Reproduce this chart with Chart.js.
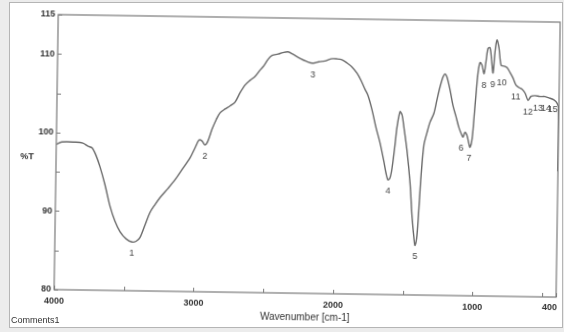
<!DOCTYPE html>
<html>
<head>
<meta charset="utf-8">
<script src="https://cdn.jsdelivr.net/npm/chart.js@4.4.1/dist/chart.umd.min.js"></script>
<style>
    body { margin: 0; background: #ececec; width: 564px; height: 332px; position: relative; overflow: hidden; }
    #frame { position: absolute; left: 9px; top: 2px; width: 552px; height: 324px; background: #fff; border: 1px solid #b5b5b5; }
    /* the scanned spectrum sits slightly tilted */
    #ftir { position: absolute; left: 0; top: 0; transform: rotate(0.86deg); }
    #comments { position: absolute; left: 11px; top: 315px; font: 9px "Liberation Sans", Arial, sans-serif; color: #333; }
</style>
</head>
<body>
<div id="frame"></div>
<canvas id="ftir" width="564" height="332"></canvas>
<div id="comments">Comments1</div>
<script>
// spectrum
const wavenumbers = [
    4000, 3960, 3866, 3809, 3772, 3743, 3715, 3684, 3646, 3608, 3571, 3534, 3490, 3447, 3418, 3390,
    3355, 3321, 3286, 3251, 3194, 3145, 3096, 3040, 3005, 2977, 2956, 2934, 2913, 2885, 2857, 2830,
    2794, 2759, 2723, 2688, 2653, 2618, 2583, 2548, 2519, 2491, 2463, 2420, 2385, 2349, 2312, 2262,
    2212, 2168, 2126, 2083, 2040, 1997, 1961, 1924, 1888, 1851, 1822, 1793, 1770, 1740, 1709, 1679,
    1649, 1632, 1618, 1603, 1590, 1571, 1559, 1539, 1524, 1509, 1485, 1459, 1442, 1424, 1417, 1404,
    1392, 1381, 1364, 1343, 1323, 1295, 1275, 1255, 1234, 1220, 1206, 1183, 1160, 1137, 1115, 1092,
    1084, 1071, 1056, 1041, 1033, 1019, 1008, 996, 983, 970, 956, 940, 928, 915, 900, 888,
    876, 864, 851, 836, 819, 798, 776, 754, 732, 710, 688, 667, 644, 622, 601, 573,
    537, 501, 465, 436, 418, 404, 401
];
const transmittance = [
    98.5, 98.8, 98.8, 98.7, 98.3, 98.1, 97.2, 95.7, 93.4, 90.7, 88.8, 87.5, 86.6, 86.2, 86.3, 86.8,
    88.4, 90.0, 91.0, 91.9, 93.1, 94.2, 95.5, 97.0, 98.3, 99.3, 99.2, 98.7, 99.2, 100.7, 101.9, 102.8,
    103.3, 103.7, 104.2, 105.4, 106.4, 107.0, 107.5, 108.3, 108.9, 109.7, 110.2, 110.4, 110.6, 110.7, 110.4, 109.9,
    109.5, 109.3, 109.5, 109.6, 109.9, 109.9, 109.8, 109.4, 108.9, 108.1, 107.2, 106.1, 105.3, 103.5, 101.2, 99.3,
    96.9, 95.4, 94.6, 94.9, 96.1, 99.1, 101.3, 103.3, 102.9, 101.3, 98.4, 94.2, 90.1, 87.0, 86.3, 87.6,
    91.4, 95.2, 99.1, 100.7, 102.0, 103.2, 104.9, 106.5, 107.8, 108.2, 107.8, 106.2, 104.2, 102.8, 101.4, 100.4,
    100.2, 100.8, 100.4, 99.3, 98.9, 100.0, 102.6, 105.6, 108.5, 109.7, 109.4, 108.3, 109.8, 111.5, 111.6, 110.1,
    108.4, 111.1, 112.6, 111.6, 109.4, 109.3, 109.1, 108.5, 107.8, 106.9, 106.6, 106.4, 105.9, 105.0, 105.5, 105.6,
    105.5, 105.5, 105.3, 105.1, 104.8, 104.2, 96.0
];

// numbered bands
const peakNumbers = ['1', '2', '3', '4', '5', '6', '7', '8', '9', '10', '11', '12', '13', '14', '15'];
const peakWavenumbers = [3447, 2934, 2168, 1618, 1417, 1098, 1040, 940, 876, 812, 710, 622, 551, 494, 444];
const peakTransmittance = [86.2, 98.7, 109.3, 94.6, 86.3, 100.2, 98.9, 108.3, 108.4, 108.6, 106.9, 105.0, 105.5, 105.5, 105.3];

// axis ticks
const xTicks = [4000, 3500, 3000, 2500, 2000, 1500, 1000, 500, 400];
const xLabels = [4000, 3000, 2000, 1000];
const yTicks = [80, 85, 90, 95, 100, 105, 110, 115];
const yLabels = [80, 90, 100, 110, 115];

const fontFamily = '"Liberation Sans", Arial, sans-serif';
const tickFont = { family: fontFamily, size: 9, weight: 'bold' };

const points = wavenumbers.map((w, i) => ({ x: w, y: transmittance[i] }));

// box, inward tick marks, band numbers, the 400 label and %T
const ftirDecor = {
    id: 'ftirDecor',
    afterDraw(chart) {
        const ctx = chart.ctx;
        const a = chart.chartArea;
        const x = chart.scales.x;
        const y = chart.scales.y;
        ctx.save();
        ctx.strokeStyle = '#7a7a7a';
        ctx.lineWidth = 1.2;
        ctx.strokeRect(a.left, a.top, a.right - a.left, a.bottom - a.top);

        ctx.lineWidth = 1;
        ctx.beginPath();
        xTicks.forEach(v => {
            const px = Math.round(x.getPixelForValue(v)) + 0.5;
            ctx.moveTo(px, a.bottom);
            ctx.lineTo(px, a.bottom - 4);
        });
        yTicks.forEach(v => {
            const py = Math.round(y.getPixelForValue(v)) + 0.5;
            ctx.moveTo(a.left, py);
            ctx.lineTo(a.left + 4, py);
        });
        ctx.stroke();

        ctx.fillStyle = '#444';
        ctx.font = '9px ' + fontFamily;
        ctx.textAlign = 'center';
        ctx.textBaseline = 'top';
        peakNumbers.forEach((n, i) => {
            ctx.fillText(n, x.getPixelForValue(peakWavenumbers[i]), y.getPixelForValue(peakTransmittance[i]) + 7);
        });

        ctx.fillStyle = '#333';
        ctx.font = 'bold 9px ' + fontFamily;
        ctx.textBaseline = 'middle';
        ctx.fillText('%T', a.left - 29, (a.top + a.bottom) / 2 + 5);
        ctx.textAlign = 'right';
        ctx.fillText('400', a.right + 1, a.bottom + 11);
        ctx.restore();
    }
};

const ftirChart = new Chart(document.getElementById('ftir').getContext('2d'), {
    type: 'scatter',
    data: {
        datasets: [{
            data: points,
            showLine: true,
            borderColor: '#6a6a6a',
            borderWidth: 1.4,
            pointRadius: 0,
            tension: 0.3
        }]
    },
    options: {
        responsive: false,
        animation: false,
        devicePixelRatio: 1,
        layout: { padding: { top: 18, right: 6, left: 0, bottom: 0 } },
        plugins: {
            legend: { display: false },
            tooltip: { enabled: false }
        },
        scales: {
            x: {
                type: 'linear',
                reverse: true,
                min: 400,
                max: 4000,
                grid: { display: false, drawTicks: false },
                border: { display: false },
                afterBuildTicks: scale => { scale.ticks = xTicks.map(v => ({ value: v })); },
                afterFit: scale => {
                    scale.height = 39;
                    scale.paddingLeft = 0;
                    scale.paddingRight = 0;
                },
                ticks: {
                    autoSkip: false,
                    maxRotation: 0,
                    padding: 6,
                    color: '#333',
                    font: tickFont,
                    callback: v => xLabels.includes(v) ? String(v) : ''
                },
                title: {
                    display: true,
                    text: 'Wavenumber [cm-1]',
                    color: '#333',
                    font: { family: fontFamily, size: 10 },
                    padding: { top: 0, bottom: 9 }
                }
            },
            y: {
                min: 80,
                max: 115,
                grid: { display: false, drawTicks: false },
                border: { display: false },
                afterBuildTicks: scale => { scale.ticks = yTicks.map(v => ({ value: v })); },
                afterFit: scale => { scale.width = 56; },
                ticks: {
                    autoSkip: false,
                    padding: 3,
                    color: '#333',
                    font: tickFont,
                    callback: v => yLabels.includes(v) ? String(v) : ''
                }
            }
        }
    },
    plugins: [ftirDecor]
});
</script>
</body>
</html>
